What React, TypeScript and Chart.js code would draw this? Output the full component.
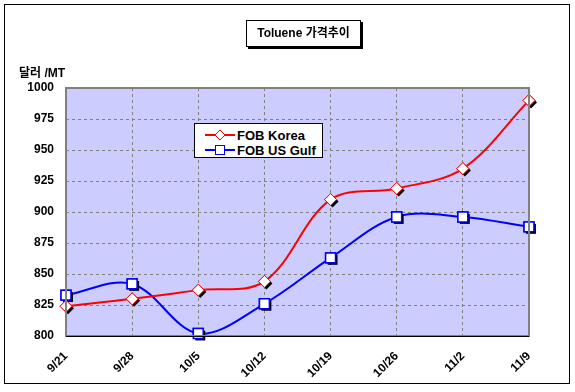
import React, { useEffect, useRef } from "react";
import { Chart, registerables } from "chart.js";

Chart.register(...registerables);

const categories = ["9/21", "9/28", "10/5", "10/12", "10/19", "10/26", "11/2", "11/9"];
const fobKorea = [824, 830, 837, 844, 910, 919, 935, 990];
const fobUsGulf = [833, 842, 802, 826, 863, 896, 896, 888];
const yTicks = [800, 825, 850, 875, 900, 925, 950, 975, 1000];

const FONT = "'Liberation Sans', Arial, 'Noto Sans CJK KR', sans-serif";

const bgPlugin = {
  id: "plotBg",
  beforeDraw(chart: any) {
    const { ctx, chartArea: a } = chart;
    ctx.save();
    ctx.fillStyle = "#CCCCFF";
    ctx.fillRect(a.left, a.top, a.right - a.left, a.bottom - a.top);
    ctx.restore();
  },
  afterDraw(chart: any) {
    const { ctx, chartArea: a } = chart;
    ctx.save();
    ctx.strokeStyle = "#808080";
    ctx.lineWidth = 2;
    ctx.strokeRect(a.left, a.top, a.right - a.left, a.bottom - a.top);
    ctx.strokeStyle = "#000";
    ctx.lineWidth = 1;
    ctx.beginPath();
    ctx.moveTo(a.left, a.bottom + 0.5);
    ctx.lineTo(a.right, a.bottom + 0.5);
    ctx.stroke();
    ctx.restore();
  },
};

const shadowPlugin = {
  id: "markerShadow",
  afterDatasetDraw(chart: any, args: any) {
    const meta = args.meta;
    const ds = chart.data.datasets[args.index];
    const ctx = chart.ctx;
    const r = ds.pointRadius;
    meta.data.forEach((pt: any) => {
      const x = pt.x + 2;
      const y = pt.y + 2;
      ctx.save();
      ctx.fillStyle = "#000";
      ctx.beginPath();
      if (ds.pointStyle === "rectRot") {
        ctx.moveTo(x, y - r);
        ctx.lineTo(x + r, y);
        ctx.lineTo(x, y + r);
        ctx.lineTo(x - r, y);
      } else {
        const h = r * Math.SQRT1_2;
        ctx.rect(x - h, y - h, 2 * h, 2 * h);
      }
      ctx.closePath();
      ctx.fill();
      ctx.restore();
      pt.draw(ctx, chart.chartArea);
    });
  },
};

function LegendMarker({ color, diamond }: { color: string; diamond: boolean }) {
  return (
    <svg width="30" height="12" style={{ display: "block" }}>
      <line x1="0" y1="6" x2="30" y2="6" stroke={color} strokeWidth="2" />
      {diamond ? (
        <polygon points="15,1 20,6 15,11 10,6" fill="#fff" stroke={color} strokeWidth="1" />
      ) : (
        <rect x="10.5" y="1.5" width="9" height="9" fill="#fff" stroke={color} strokeWidth="1" />
      )}
    </svg>
  );
}

export default function App() {
  const ref = useRef<HTMLCanvasElement>(null);

  useEffect(() => {
    if (!ref.current) return;
    const chart = new Chart(ref.current, {
      type: "line",
      data: {
        labels: categories,
        datasets: [
          {
            label: "FOB Korea",
            data: fobKorea,
            borderColor: "#FF0000",
            borderWidth: 2,
            backgroundColor: "#FFFFFF",
            pointStyle: "rectRot",
            pointRadius: 6,
            pointBorderColor: "#FF0000",
            pointBackgroundColor: "#FFFFFF",
            pointBorderWidth: 1,
            tension: 0.35,
            fill: false,
          },
          {
            label: "FOB US Gulf",
            data: fobUsGulf,
            borderColor: "#0000FF",
            borderWidth: 2,
            backgroundColor: "#FFFFFF",
            pointStyle: "rect",
            pointRadius: 7,
            pointBorderColor: "#0000FF",
            pointBackgroundColor: "#FFFFFF",
            pointBorderWidth: 1.5,
            tension: 0.35,
            fill: false,
          },
        ] as any,
      },
      options: {
        responsive: false,
        animation: false,
        layout: { padding: { top: 88, right: 46, left: 0, bottom: 0 } },
        plugins: {
          legend: { display: false },
          title: { display: false },
          tooltip: { enabled: false },
        },
        scales: {
          x: {
            type: "category",
            offset: false,
            grid: {
              color: "#808080",
              lineWidth: 1,
              drawTicks: false,
            },
            border: { display: false, dash: [3, 3] } as any,
            ticks: {
              color: "#000",
              font: { family: FONT, size: 12, weight: "bold" },
              maxRotation: 45,
              minRotation: 45,
              padding: 13,
              autoSkip: false,
            },
            afterFit(scale: any) {
              scale.height = 56;
            },
          },
          y: {
            type: "linear",
            min: 800,
            max: 1000,
            afterBuildTicks(scale: any) {
              scale.ticks = yTicks.map((v) => ({ value: v }));
            },
            grid: {
              color: "#808080",
              lineWidth: 1,
              drawTicks: false,
            },
            border: { display: false, dash: [3, 3] } as any,
            ticks: {
              color: "#000",
              font: { family: FONT, size: 12, weight: "bold" },
              padding: 12,
              callback: (v: any) => String(v),
            },
            afterFit(scale: any) {
              scale.width = 66;
            },
          },
        },
      } as any,
      plugins: [bgPlugin, shadowPlugin],
    });
    return () => chart.destroy();
  }, []);

  return (
    <div style={{ position: "absolute", left: 0, top: 0, width: 575, height: 392, background: "#fff", fontFamily: FONT }}>
      <div style={{ position: "absolute", left: 4, top: 4, width: 564, height: 378, border: "1px solid #000" }} />
      <canvas ref={ref} width={575} height={392} style={{ position: "absolute", left: 0, top: 0 }} />
      <div
        style={{
          position: "absolute",
          left: 246,
          top: 20,
          width: 113,
          height: 25,
          border: "1px solid #000",
          boxShadow: "2px 2px 0 #000",
          background: "#fff",
          fontWeight: "bold",
          fontSize: 12,
          lineHeight: "25px",
          textAlign: "center",
          whiteSpace: "nowrap",
        }}
      >
        Toluene 가격추이
      </div>
      <div style={{ position: "absolute", left: 19, top: 63, fontWeight: "bold", fontSize: 12, whiteSpace: "nowrap" }}>
        달러 /MT
      </div>
      <div
        style={{
          position: "absolute",
          left: 194,
          top: 123,
          width: 127,
          height: 33,
          border: "1px solid #000",
          background: "#fff",
          fontWeight: "bold",
          fontSize: 13,
        }}
      >
        <div style={{ position: "absolute", left: 10, top: 4, display: "flex", alignItems: "center", height: 14 }}>
          <LegendMarker color="#FF0000" diamond={true} />
          <span style={{ marginLeft: 2 }}>FOB Korea</span>
        </div>
        <div style={{ position: "absolute", left: 10, top: 19, display: "flex", alignItems: "center", height: 14 }}>
          <LegendMarker color="#0000FF" diamond={false} />
          <span style={{ marginLeft: 2 }}>FOB US Gulf</span>
        </div>
      </div>
    </div>
  );
}
